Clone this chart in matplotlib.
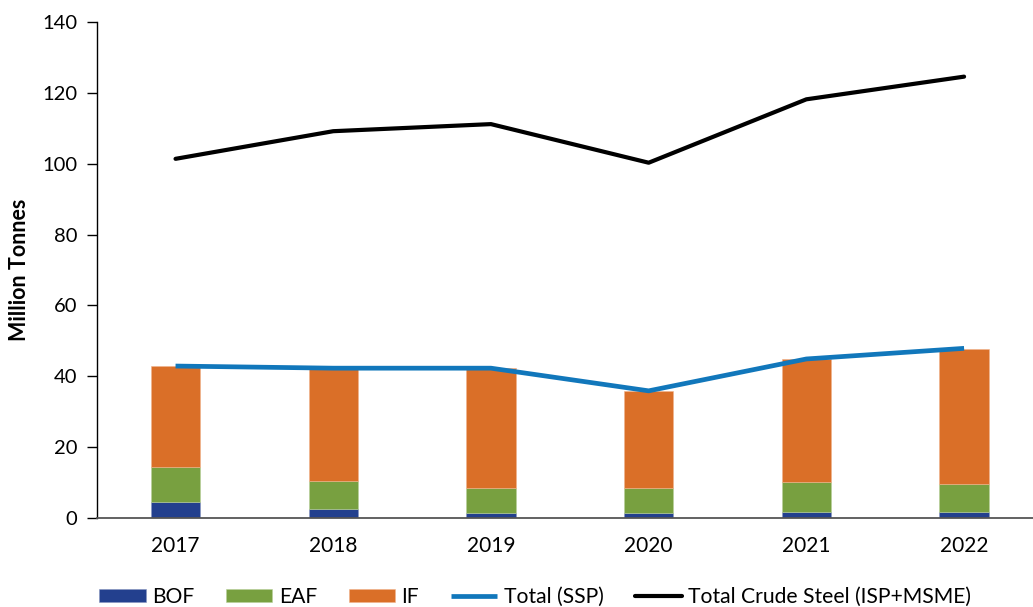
import matplotlib
matplotlib.use("Agg")
import numpy as np
import matplotlib.pyplot as plt

plt.rcParams["font.family"] = ["Lato", "DejaVu Sans"]

years = ["2017", "2018", "2019", "2020", "2021", "2022"]
bof = [4.6, 2.6, 1.5, 1.5, 1.8, 1.8]
eaf = [9.7, 7.8, 6.9, 7.0, 8.5, 7.7]
ind_furnace = [28.6, 31.6, 34.0, 27.4, 34.6, 38.3]
total_ssp = [42.9, 42.3, 42.3, 35.9, 44.9, 47.9]
total_crude = [101.4, 109.2, 111.2, 100.3, 118.2, 124.6]

colors = {
    "bof": "#23408E",
    "eaf": "#78A040",
    "if": "#DA6F28",
    "ssp": "#1177BB",
    "crude": "#000000",
}

x = np.arange(len(years))
bof = np.array(bof)
eaf = np.array(eaf)
ind_furnace = np.array(ind_furnace)

fig = plt.figure(figsize=(10.33, 6.07), dpi=100)
ax = fig.add_axes([0.0936, 0.1466, 0.9064, 0.817])

width = 0.312
b1 = ax.bar(x, bof, width, color=colors["bof"], label="BOF",
            edgecolor="#8896c0", linewidth=0.4)
b2 = ax.bar(x, eaf, width, bottom=bof, color=colors["eaf"], label="EAF",
            edgecolor="#b8d09a", linewidth=0.4)
b3 = ax.bar(x, ind_furnace, width, bottom=bof + eaf, color=colors["if"], label="IF",
            edgecolor="#f0b48c", linewidth=0.4)
l1, = ax.plot(x, total_ssp, color=colors["ssp"], linewidth=3.4, label="Total (SSP)",
              solid_capstyle="butt")
l2, = ax.plot(x, total_crude, color=colors["crude"], linewidth=3.0,
              label="Total Crude Steel (ISP+MSME)", solid_capstyle="round")

# Axes formatting
ax.set_xlim(-0.5, 5.437)
ax.set_ylim(0, 140)
ax.set_yticks(np.arange(0, 141, 20))
ax.set_xticks(x)
ax.set_xticklabels(years)
ax.tick_params(axis="x", length=0, pad=13, labelsize=15)
ax.tick_params(axis="y", length=7, width=1, pad=7, labelsize=14.5, direction="out")
ax.spines["top"].set_visible(False)
ax.spines["right"].set_visible(False)
ax.spines["left"].set_color("#000000")
ax.spines["left"].set_linewidth(1.0)
ax.spines["bottom"].set_color("#555555")
ax.spines["bottom"].set_linewidth(1.3)
ax.set_ylabel("Million Tonnes", fontsize=15.5, fontweight="bold", labelpad=9)

fig.legend(handles=[b1, b2, b3, l1, l2], loc="center",
           bbox_to_anchor=(0.518, 0.0165), ncol=5, frameon=False,
           fontsize=15.2, handlelength=2.2, handletextpad=0.3, columnspacing=1.5,
           handleheight=0.55)

fig.savefig("out.png", dpi=100)
